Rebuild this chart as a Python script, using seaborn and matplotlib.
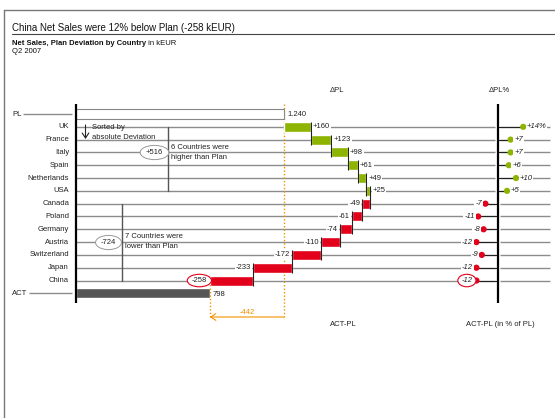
import numpy as np
import matplotlib
matplotlib.use("Agg")
import matplotlib.pyplot as plt
import seaborn as sns

# ---------------- data ----------------
countries = ["UK", "France", "Italy", "Spain", "Netherlands", "USA", "Canada",
             "Poland", "Germany", "Austria", "Switzerland", "Japan", "China"]
delta = [160, 123, 98, 61, 49, 25, -49, -61, -74, -110, -172, -233, -258]
delta_pct = [14, 7, 7, 6, 10, 5, -7, -11, -8, -12, -9, -12, -12]
plan_total = 1240
actual_total = 798
plan_label = "1.240"
pos_sum_label = "+516"
neg_sum_label = "-724"

# ---------------- style ----------------
sns.set_theme(style="white")
plt.rcParams['font.family'] = ['Liberation Sans', 'DejaVu Sans']
GREEN = '#8cb400'
RED = '#e2001a'
ORANGE = '#f39200'
LINE = '#8c8c8c'
FS = 5.5

W, H = 555, 418
fig = plt.figure(figsize=(W / 100, H / 100), dpi=100)

# layout (pixel) constants
X0, KPX = 76, 0.1677      # waterfall origin (px) and px per kEUR
XP0, PPX = 498, 1.8       # percent axis origin (px) and px per %
ROW0, ROWH = 114, 12.81   # first row (px) and row pitch (px)


def xk(px):
    return (px - X0) / KPX


def yr(py):
    return (py - ROW0) / ROWH


def add_ax():
    a = fig.add_axes([0, 0, 1, 1])
    a.axis('off')
    a.patch.set_visible(False)
    return a


ax1 = add_ax()
ax1.set_xlim(xk(0), xk(W))
ax1.set_ylim(yr(H), yr(0))

n = len(countries)
rows = np.arange(1, n + 1)
pl_row, act_row = 0, n + 1
bh = 0.78

d = np.array(delta)
starts = plan_total + np.concatenate([[0], np.cumsum(d)[:-1]])
ends = starts + d
colors = [GREEN if v > 0 else RED for v in d]

# row lines
ax1.hlines(rows, 0, xk(495), color=LINE, lw=1.0, zorder=1)
ax1.hlines(rows, xk(500), xk(550), color=LINE, lw=1.0, zorder=1)
ax1.hlines([pl_row, act_row], [xk(23), xk(29)], xk(72), color=LINE, lw=1.0, zorder=1)

# category labels
for r, name in zip(rows, countries):
    ax1.text(xk(69), r, name, ha='right', va='center', fontsize=FS, color='#222')
ax1.text(xk(12), pl_row, "PL", ha='left', va='center', fontsize=FS, color='#222')
ax1.text(xk(12), act_row, "ACT", ha='left', va='center', fontsize=FS, color='#222')

# PL and ACT bars
ax1.barh(pl_row, plan_total, left=0, height=bh, color='white', edgecolor='#888888', lw=0.8, zorder=3)
ax1.barh(act_row, actual_total, left=0, height=bh, color='#555555', zorder=3)

# waterfall bars
ax1.barh(rows, np.abs(d), left=np.minimum(starts, ends), height=bh, color=colors, zorder=3)

# connectors
for i in range(n - 1):
    ax1.vlines(ends[i], rows[i] - bh / 2, rows[i + 1] + bh / 2, color='#222222', lw=0.8, zorder=4)

# value labels
for i, (v, e, r) in enumerate(zip(d, ends, rows)):
    if v > 0:
        ax1.annotate(f"+{v}", xy=(e, r), xytext=(2, 0), textcoords='offset pixels',
                     ha='left', va='center', fontsize=FS, color='#222', zorder=5,
                     bbox=dict(boxstyle='square,pad=0.12', fc='white', ec='none'))
    elif i == n - 1:
        ax1.annotate(f"{v}", xy=(e, r), xytext=(-3, 0), textcoords='offset pixels',
                     ha='right', va='center', fontsize=FS, color='#222', zorder=5,
                     bbox=dict(boxstyle='ellipse,pad=0.12', fc='white', ec=RED, lw=0.8))
    else:
        ax1.annotate(f"{v}", xy=(e, r), xytext=(-2, 0), textcoords='offset pixels',
                     ha='right', va='center', fontsize=FS, color='#222', zorder=5,
                     bbox=dict(boxstyle='square,pad=0.12', fc='white', ec='none'))

ax1.annotate(plan_label, xy=(plan_total, pl_row), xytext=(4, 0), textcoords='offset pixels',
             ha='left', va='center', fontsize=FS, color='#222')
ax1.annotate(f"{actual_total}", xy=(actual_total, act_row), xytext=(3, -1), textcoords='offset pixels',
             ha='left', va='center', fontsize=FS, color='#222')

# left axis
ax1.vlines(0, yr(104), yr(303), color='black', lw=1.6, zorder=6)

# orange difference marks
ax1.vlines(plan_total, yr(104), yr(317), color=ORANGE, lw=1.0, linestyles=(0, (1, 1.5)), zorder=2)
ax1.vlines(actual_total, rows[-1], yr(318), color=ORANGE, lw=1.0, linestyles=(0, (1, 1.5)), zorder=4)
ax1.annotate('', xy=(actual_total, yr(317)), xytext=(plan_total, yr(317)),
             arrowprops=dict(arrowstyle='->,head_length=0.3,head_width=0.2', color=ORANGE, lw=0.8,
                             shrinkA=0, shrinkB=0))
ax1.text((plan_total + actual_total) / 2, yr(312), f"{actual_total - plan_total}",
         ha='center', va='center', fontsize=FS, color=ORANGE)

# ---------------- percent panel ----------------
ax2 = add_ax()
p = np.array(delta_pct)
ax2.hlines(rows, 0, p, color='#222222', lw=0.8, zorder=3)
sns.scatterplot(x=p, y=rows, hue=np.where(p > 0, 'pos', 'neg'),
                palette={'pos': GREEN, 'neg': RED}, s=20, edgecolor='none',
                legend=False, ax=ax2, zorder=5)
ax2.axis('off')
ax2.set_xlim((0 - XP0) / PPX, (W - XP0) / PPX)
ax2.set_ylim(yr(H), yr(0))
for i, (v, r) in enumerate(zip(p, rows)):
    if v > 0:
        txt = f"+{v}%" if i == 0 else f"+{v}"
        ax2.annotate(txt, xy=(v, r), xytext=(3.5, 0), textcoords='offset pixels',
                     ha='left', va='center', fontsize=FS, style='italic', color='#222', zorder=6,
                     bbox=dict(boxstyle='square,pad=0.12', fc='white', ec='none'))
    elif i == n - 1:
        ax2.annotate(f"{v}", xy=(v, r), xytext=(-4, 0), textcoords='offset pixels',
                     ha='right', va='center', fontsize=FS, style='italic', color='#222', zorder=6,
                     bbox=dict(boxstyle='ellipse,pad=0.12', fc='white', ec=RED, lw=0.8))
    else:
        ax2.annotate(f"{v}", xy=(v, r), xytext=(-3.5, 0), textcoords='offset pixels',
                     ha='right', va='center', fontsize=FS, style='italic', color='#222', zorder=6,
                     bbox=dict(boxstyle='square,pad=0.12', fc='white', ec='none'))
ax2.vlines(0, yr(104), yr(303), color='black', lw=1.6, zorder=7)

# ---------------- overlay: titles & annotations ----------------
ov = add_ax()
ov.set_xlim(0, W)
ov.set_ylim(H, 0)
ov.plot([4, W], [10, 10], color='#777777', lw=1.0)
ov.plot([4, 4], [10, H], color='#777777', lw=1.0)
ov.plot([12, W], [34, 34], color='#444444', lw=0.8)
ov.text(12, 31, "China Net Sales were 12% below Plan (-258 kEUR)", fontsize=7,
        va='baseline', ha='left', color='#111')
t1 = ov.text(12, 45, "Net Sales, Plan Deviation by Country", fontsize=FS, fontweight='bold',
             va='baseline', ha='left', color='#111')
ov.annotate(" in kEUR", xy=(1, 0), xycoords=t1, ha='left', va='bottom', fontsize=FS, color='#111')
ov.text(12, 53, "Q2 2007", fontsize=FS, va='baseline', ha='left', color='#111')

ov.text(337, 90, "ΔPL", fontsize=FS, ha='center', va='center', color='#222')
ov.text(499, 90, "ΔPL%", fontsize=FS, ha='center', va='center', color='#222')
ov.text(343, 325, "ACT-PL", fontsize=FS, ha='center', va='center', color='#222')
ov.text(500, 325, "ACT-PL (in % of PL)", fontsize=FS, ha='center', va='center', color='#222')

# sorted-by note
ov.annotate('', xy=(85.5, 139), xytext=(85.5, 125),
            arrowprops=dict(arrowstyle='->,head_length=0.3,head_width=0.2', color='#222', lw=0.8,
                            shrinkA=0, shrinkB=0))
ov.text(92, 127.5, "Sorted by", fontsize=FS, ha='left', va='center', color='#222')
ov.text(92, 137.5, "absolute Deviation", fontsize=FS, ha='left', va='center', color='#222')

# positive group bracket
ov.plot([168, 168], [127, 190.5], color='#555555', lw=1.0)
ov.text(154.5, 152.5, pos_sum_label, fontsize=FS, ha='center', va='center', color='#222',
        bbox=dict(boxstyle='ellipse,pad=0.2', fc='white', ec='#999999', lw=0.7))
ov.text(171, 147.5, "6 Countries were", fontsize=FS, ha='left', va='center', color='#222')
ov.text(171, 157.5, "higher than Plan", fontsize=FS, ha='left', va='center', color='#222')

# negative group bracket
ov.plot([122, 122], [204, 281], color='#555555', lw=1.0)
ov.text(108.5, 242.5, neg_sum_label, fontsize=FS, ha='center', va='center', color='#222',
        bbox=dict(boxstyle='ellipse,pad=0.2', fc='white', ec='#999999', lw=0.7))
ov.text(125, 237, "7 Countries were", fontsize=FS, ha='left', va='center', color='#222')
ov.text(125, 246, "lower than Plan", fontsize=FS, ha='left', va='center', color='#222')

fig.savefig("out.png", dpi=100)
